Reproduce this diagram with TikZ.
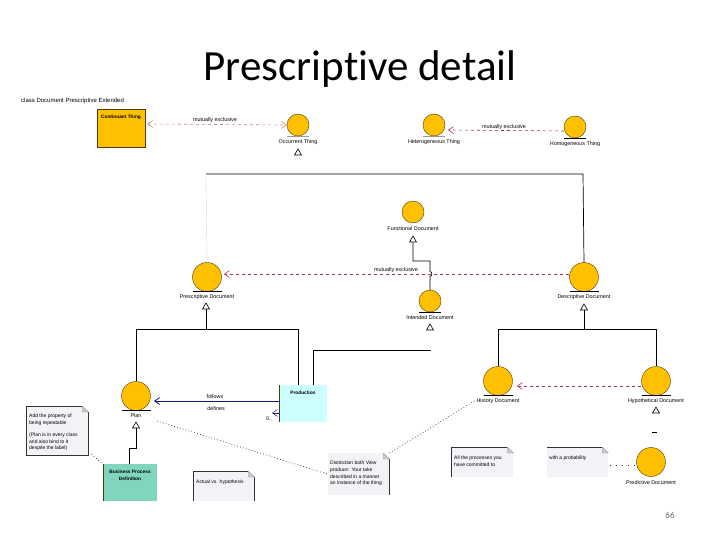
\documentclass[tikz,border=0pt]{standalone}
\usepackage{fontspec}
\setmainfont{Liberation Sans}
\newfontfamily\titlefont[Ligatures=NoCommon]{Carlito}
\usetikzlibrary{arrows.meta,shapes.geometric}
\definecolor{thinggold}{HTML}{FFC000}
\definecolor{thingedge}{HTML}{4A3A10}
\definecolor{exclusive}{HTML}{A8324A}
\definecolor{notefill}{HTML}{F5F2F7}
\definecolor{planblue}{HTML}{14147E}
\definecolor{definitiongreen}{HTML}{7FD6BC}
\definecolor{productioncyan}{HTML}{CCFFFF}
\tikzset{
  smallthing/.style={circle,draw=thingedge,fill=thinggold,inner sep=0pt,minimum size=22pt},
  bigthing/.style={circle,draw=thingedge,fill=thinggold,inner sep=0pt,minimum size=29pt},
  thinglabel/.style={font=\fontsize{5.4}{6}\selectfont,text=black,inner sep=0pt},
  linklabel/.style={font=\fontsize{5.4}{6}\selectfont,text=black,inner sep=0pt},
  gentip/.style={regular polygon,regular polygon sides=3,draw,fill=white,inner sep=0pt,minimum size=8pt,line width=0.6pt},
  notebox/.style={fill=notefill,inner sep=0pt,anchor=north west},
  notetext/.style={inner sep=0pt,anchor=north west,font=\fontsize{5}{6.6}\selectfont,text=black,align=left},
  boldlabel/.style={inner sep=0pt,font=\bfseries\fontsize{4.8}{7}\selectfont,align=center},
  genline/.style={line width=0.7pt},
  noteborder/.style={line width=0.6pt,black!80},
  exclusiveline/.style={exclusive,dashed,line width=0.6pt,->},
  noteline/.style={dash pattern=on 0.8pt off 2.2pt,line width=0.6pt,black!85},
  >={Straight Barb[length=5pt,width=7pt]}
}
\newcommand{\thingbase}[3][black]{\draw[#1,line width=0.6pt] ([xshift=-#3pt]#2.south) -- ([xshift=#3pt]#2.south);}
\newcommand{\notefold}[1]{\fill[white] ([xshift=-6pt]#1.north east) -- (#1.north east) -- ([yshift=-6pt]#1.north east) -- cycle;
  \draw[black!45,fill=black!20,line width=0.3pt] ([xshift=-6pt]#1.north east) -- ([xshift=-6pt,yshift=-6pt]#1.north east) -- ([yshift=-6pt]#1.north east) -- cycle;}
\begin{document}
\begin{tikzpicture}[x=1pt,y=-1pt]
  \useasboundingbox (0,0) rectangle (720,540);
  \node[font=\titlefont\fontsize{43}{48}\selectfont,inner sep=0pt] (title) at (360,69) {Prescriptive detail};
  \node[font=\titlefont\fontsize{9}{10}\selectfont,text=black!60,inner sep=0pt] (pageno) at (670,515) {66};
  \node[thinglabel,font=\fontsize{6}{6}\selectfont,anchor=west] (frame) at (21,101) {class Document Prescriptive Extended};

  % top row
  \node[draw=thingedge,fill=thinggold,minimum width=48pt,minimum height=38pt] (continuant) at (121,128) {};
  \node[boldlabel] (continuantlabel) at (121,117) {Continuant Thing};
  \node[smallthing] (occurrent) at (298,125) {};
  \node[thinglabel] (occurrentlabel) at (298,142) {Occurrent Thing};
  \node[gentip] (occurrenttip) at (298,153) {};
  \node[smallthing] (heterogeneous) at (434,125) {};
  \node[thinglabel] (heterogeneouslabel) at (434,142) {Heterogeneous Thing};
  \node[smallthing] (homogeneous) at (575,127) {};
  \node[thinglabel] (homogeneouslabel) at (575,144) {Homogeneous Thing};
  \thingbase[black!40]{occurrent}{11}
  \thingbase[black!40]{heterogeneous}{11}
  \thingbase{homogeneous}{11}
  \draw[exclusiveline,exclusive!60,<->] (continuant.east |- 0,124) ++(2,0) -- (occurrent.west);
  \node[linklabel] (exclusiveone) at (215,120) {mutually exclusive};
  \draw[exclusiveline] (homogeneous.west) ++(0,4) -- (448,130);
  \node[linklabel] (exclusivetwo) at (504,127) {mutually exclusive};

  % document level
  \coordinate (framecornerl) at (206,174);
  \coordinate (framecornerr) at (583,174);
  \node[smallthing] (functional) at (413,212) {};
  \node[thinglabel] (functionallabel) at (413,229) {Functional Document};
  \node[gentip] (functionaltip) at (413,240) {};
  \node[bigthing] (prescriptive) at (207,277) {};
  \node[thinglabel] (prescriptivelabel) at (207,297) {Prescriptive Document};
  \node[gentip] (prescriptivetip) at (206,307) {};
  \node[bigthing] (descriptive) at (584,277) {};
  \node[thinglabel] (descriptivelabel) at (584,297) {Descriptive Document};
  \node[gentip] (descriptivetip) at (584,308) {};
  \node[smallthing] (intended) at (430,301) {};
  \node[thinglabel] (intendedlabel) at (430,318) {Intended Document};
  \node[gentip] (intendedtip) at (430,328) {};
  \thingbase{prescriptive}{14.5}
  \thingbase{descriptive}{14.5}
  \thingbase{intended}{11}
  \draw[black!15,line width=0.4pt] (framecornerl) -- (prescriptive.north);
  \draw[genline] (framecornerl) -- (framecornerr) -- (descriptive.north);
  \draw[exclusiveline] (descriptive.west) ++(0,-3) -- (224,274);
  \node[linklabel] (exclusivethree) at (396,270) {mutually exclusive};
  \draw[genline] (functionaltip.south) |- (430,261) -- (430,271.5)
    .. controls (432.5,272) and (432.5,276) .. (430,276.5) -- (intended.north);

  % lower level
  \node[bigthing] (plan) at (136,396) {};
  \node[thinglabel] (planlabel) at (136,416) {Plan};
  \node[gentip] (plantip) at (136,426) {};
  \node[fill=productioncyan,minimum width=48pt,minimum height=37pt] (production) at (303,403.5) {};
  \node[boldlabel] (productionlabel) at (303,393) {Production};
  \node[bigthing] (history) at (498,381) {};
  \node[thinglabel] (historylabel) at (498,401) {History Document};
  \node[bigthing] (hypothetical) at (656,381) {};
  \node[thinglabel] (hypotheticallabel) at (656,401) {Hypothetical Document};
  \node[gentip] (hypotheticaltip) at (656,411) {};
  \node[bigthing] (predictive) at (651,462) {};
  \node[thinglabel] (predictivelabel) at (651,483) {Predictive Document};
  \thingbase{plan}{14.5}
  \thingbase{history}{14.5}
  \thingbase{hypothetical}{14.5}
  \draw[genline] (plan.north) -- (136,329) -- (298,329) -- (298,385);
  \draw[genline] (prescriptivetip.south) -- (206,329);
  \draw[genline] (313,385) -- (313,350) -- (431,350);
  \draw[genline] (history.north) -- (498,329) -- (656,329) -- (hypothetical.north);
  \draw[genline] (descriptivetip.south) -- (584,329);
  \draw[genline] (652,432) -- (657,432);
  \draw[thingedge,line width=0.6pt] (production.north west) -- (production.south west);
  \draw[planblue,line width=0.8pt,->] (production.west |- 0,401) -- (154,401);
  \node[linklabel] (follows) at (215,397) {follows};
  \node[linklabel] (defines) at (216,409) {defines};
  \draw[planblue,line width=0.5pt,<-] (272,413) -- (production.west |- 0,413);
  \node[linklabel] (multiplicity) at (269,419) {0..};
  \draw[exclusiveline] (hypothetical.west) ++(0,5) -- (517,386);

  % plan definition
  \node[fill=definitiongreen,minimum width=54pt,minimum height=37pt] (definition) at (130,482.5) {};
  \node[boldlabel] (definitionlabel) at (130,475) {Business Process\\Definition};
  \draw[thingedge,line width=0.5pt] (definition.north west) -- (definition.south west);
  \draw[genline] (plantip.south) |- (129,448) -- (129,464);

  % notes
  \node[notebox,minimum width=62pt,minimum height=49pt] (addnote) at (26,406) {};
  \node[notetext] at (29,414) {Add the property of\\being repeatable\\[5.5pt](Plan is in every class\\and also bind to it\\despite the label)};
  \node[notebox,minimum width=61pt,minimum height=30pt] (actualnote) at (193,471) {};
  \node[notetext] at (196,480) {Actual vs. hypothesis};
  \node[notebox,minimum width=61pt,minimum height=42pt] (distinctionnote) at (328,453) {};
  \node[notetext] at (330,461) {Distinction both View\\produce: Your take\\described in a manner\\an instance of the thing};
  \node[notebox,minimum width=62pt,minimum height=30pt] (committednote) at (451,447) {};
  \node[notetext] at (454,456) {All the processes you\\have committed to};
  \node[notebox,minimum width=61pt,minimum height=30pt] (probabilitynote) at (547,447) {};
  \node[notetext] at (549,456) {with a probability};
  \draw[noteborder] (addnote.north east) ++(-6,0) -- (addnote.north west) -- (addnote.south west) -- (addnote.south east) -- ++(0,-43);
  \draw[noteborder] (actualnote.south west) -- (actualnote.north west) -- ([xshift=-6pt]actualnote.north east);
  \draw[noteborder] ([yshift=-6pt]actualnote.north east) -- (actualnote.south east);
  \draw[noteborder] ([yshift=-6pt]distinctionnote.north east) -- (distinctionnote.south east);
  \draw[noteborder] (committednote.south west) -- (committednote.north west) -- ([xshift=-6pt]committednote.north east);
  \draw[noteborder] (probabilitynote.north west) -- ([xshift=-6pt]probabilitynote.north east);
  \notefold{addnote}
  \notefold{actualnote}
  \notefold{distinctionnote}
  \notefold{committednote}
  \notefold{probabilitynote}
  \draw[noteline] (addnote.south east) ++(3,-1) -- (definition.north west);
  \draw[noteline] (157,421) -- (distinctionnote.west);
  \draw[noteline] (distinctionnote.north east) -- (476,400);
  \draw[noteline,dash pattern=on 1pt off 5pt] (probabilitynote.east |- 0,465) ++(2,0) -- (predictive.west |- 0,465);
\end{tikzpicture}
\end{document}
